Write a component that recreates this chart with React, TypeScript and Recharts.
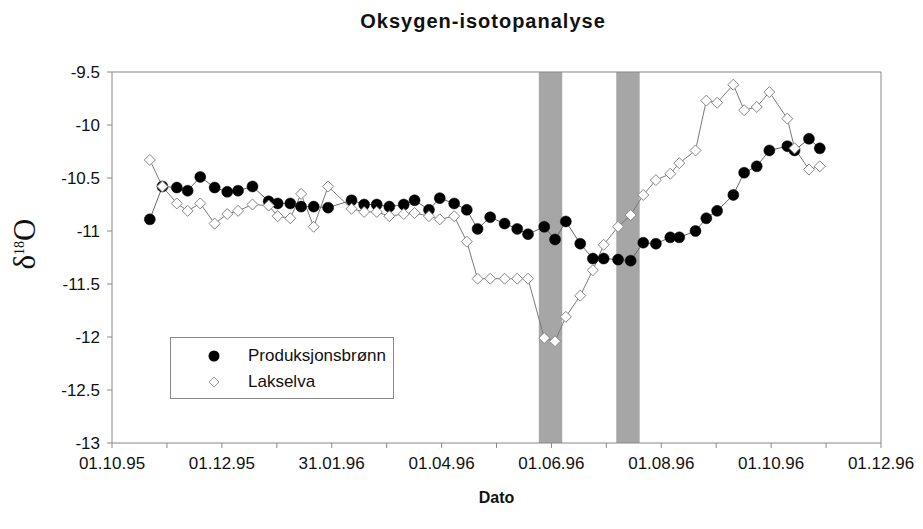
import React from "react"
import {
  ComposedChart,
  Line,
  XAxis,
  YAxis,
  ReferenceArea,
  ReferenceLine,
  Legend,
} from "recharts"

// sample dates, as days after 01.10.95
const sampleDays = [
  21, 28, 36, 42, 49, 57, 64, 70, 78, 87,
  92, 99, 105, 112, 120, 133, 140, 147, 154, 162,
  168, 176, 182, 190, 197, 203, 210, 218, 225, 231,
  240, 246, 252, 260, 267, 273, 281, 288, 295, 302,
  310, 315, 324, 330, 336, 345, 351, 358, 365, 375,
  379, 387, 393,
]

const produksjonsbronn = [
  -10.89, -10.58, -10.59, -10.62, -10.49, -10.59, -10.63, -10.62, -10.58, -10.72,
  -10.74, -10.74, -10.77, -10.77, -10.78, -10.71, -10.75, -10.75, -10.77, -10.75,
  -10.71, -10.8, -10.69, -10.74, -10.8, -10.98, -10.87, -10.93, -10.98, -11.03,
  -10.96, -11.08, -10.91, -11.12, -11.26, -11.26, -11.27, -11.28, -11.11, -11.12,
  -11.06, -11.06, -11.0, -10.88, -10.81, -10.66, -10.45, -10.39, -10.24, -10.2,
  -10.24, -10.13, -10.22,
]

const lakselva = [
  -10.33, -10.58, -10.74, -10.81, -10.74, -10.93, -10.84, -10.81, -10.75, -10.76,
  -10.86, -10.88, -10.65, -10.96, -10.58, -10.79, -10.82, -10.82, -10.86, -10.84,
  -10.83, -10.86, -10.89, -10.86, -11.1, -11.45, -11.45, -11.45, -11.45, -11.45,
  -12.01, -12.04, -11.81, -11.61, -11.37, -11.13, -10.96, -10.85, -10.66, -10.52,
  -10.46, -10.36, -10.24, -9.77, -9.79, -9.62, -9.86, -9.83, -9.69, -9.94,
  -10.22, -10.42, -10.39,
]

// shaded periods (days after 01.10.95)
const bands = [
  [237, 250],
  [280, 293],
]

const xTickDays = [0, 30.5, 61, 91.5, 122, 152.5, 183, 213.5, 244, 274.5, 305, 335.5, 366, 396.5, 427]
const xTickLabels = ["01.10.95", "01.12.95", "31.01.96", "01.04.96", "01.06.96", "01.08.96", "01.10.96", "01.12.96"]
const yTicks = [-13, -12.5, -12, -11.5, -11, -10.5, -10, -9.5]

const data = sampleDays.map((day, i) => ({
  day,
  prod: produksjonsbronn[i],
  lak: lakselva[i],
}))

const axisColor = "#888"
const seriesOrder = ["prod", "lak"]

const renderDiamond = (p: any) => {
  const { cx, cy, index } = p
  if (cx == null || cy == null) return <g key={index} />
  const s = 5.5
  return (
    <polygon
      key={index}
      points={`${cx},${cy - s} ${cx + s},${cy} ${cx},${cy + s} ${cx - s},${cy}`}
      fill="#fff"
      stroke="#858585"
      strokeWidth={1}
    />
  )
}

const renderLegend = (props: any) => {
  const items = [...(props.payload || [])].sort(
    (a: any, b: any) => seriesOrder.indexOf(a.dataKey) - seriesOrder.indexOf(b.dataKey)
  )
  return (
    <div
      style={{
        border: "1px solid #888",
        background: "#fff",
        width: 224,
        height: 62,
        boxSizing: "border-box",
        paddingTop: 5,
        fontSize: 17,
        color: "#111",
      }}
    >
      {items.map((it: any) => (
        <div key={it.value} style={{ display: "flex", alignItems: "center", height: 26 }}>
          <svg width={77} height={20}>
            {it.dataKey === "prod" ? (
              <circle cx={43} cy={10} r={5.5} fill="#000" />
            ) : (
              <polygon points="43,5 48,10 43,15 38,10" fill="#fff" stroke="#999" />
            )}
          </svg>
          <span>{it.value}</span>
        </div>
      ))}
    </div>
  )
}

export default function App() {
  return (
    <div
      style={{
        position: "absolute",
        left: 0,
        top: 0,
        width: 923,
        height: 529,
        background: "#fff",
        fontFamily: "'Liberation Sans', Arial, sans-serif",
      }}
    >
      <div
        style={{
          position: "absolute",
          left: 283,
          top: 10,
          width: 400,
          textAlign: "center",
          fontSize: 20,
          fontWeight: "bold",
          letterSpacing: 1,
          color: "#111",
        }}
      >
        Oksygen-isotopanalyse
      </div>
      <div
        style={{
          position: "absolute",
          left: 25,
          top: 244,
          transform: "translate(-50%, -50%) rotate(-90deg)",
          fontFamily: "'Liberation Serif', 'Times New Roman', serif",
          fontSize: 31,
          whiteSpace: "nowrap",
          color: "#111",
        }}
      >
        δ<sup style={{ fontSize: 14 }}>18</sup>O
      </div>
      <ComposedChart
        width={923}
        height={529}
        data={data}
        margin={{ top: 72, right: 42, bottom: 56, left: 30 }}
      >
        {bands.map(([a, b]) => (
          <ReferenceArea
            key={a}
            x1={a}
            x2={b}
            fill="#a6a6a6"
            fillOpacity={1}
            stroke="none"
            zIndex={-50}
          />
        ))}
        <ReferenceLine y={-9.5} stroke={axisColor} />
        <ReferenceLine x={427} stroke={axisColor} />
        <XAxis
          type="number"
          dataKey="day"
          domain={[0, 427]}
          ticks={xTickDays}
          interval={0}
          tickFormatter={(v: number, i: number) => (i % 2 === 0 ? xTickLabels[i / 2] : "")}
          stroke={axisColor}
          tickSize={5}
          tickMargin={9}
          height={30}
          tick={{ fill: "#111", fontSize: 17 }}
          label={{ value: "Dato", position: "bottom", offset: 19, fill: "#111", fontSize: 16, fontWeight: "bold" }}
        />
        <YAxis
          type="number"
          domain={[-13, -9.5]}
          ticks={yTicks}
          interval={0}
          stroke={axisColor}
          tickSize={5}
          tickMargin={7}
          width={82}
          tick={{ fill: "#111", fontSize: 17 }}
        />
        <Legend
          layout="vertical"
          align="center"
          verticalAlign="middle"
          content={renderLegend}
          wrapperStyle={{ left: 170, top: 337, width: 224, height: 62 }}
        />
        <Line
          type="linear"
          dataKey="prod"
          name="Produksjonsbrønn"
          stroke="#666"
          strokeWidth={1}
          dot={{ r: 5.5, fill: "#000", stroke: "#000", strokeWidth: 0.5 }}
          isAnimationActive={false}
        />
        <Line
          type="linear"
          dataKey="lak"
          name="Lakselva"
          stroke="#7a7a7a"
          strokeWidth={1}
          dot={renderDiamond}
          isAnimationActive={false}
        />
      </ComposedChart>
    </div>
  )
}
